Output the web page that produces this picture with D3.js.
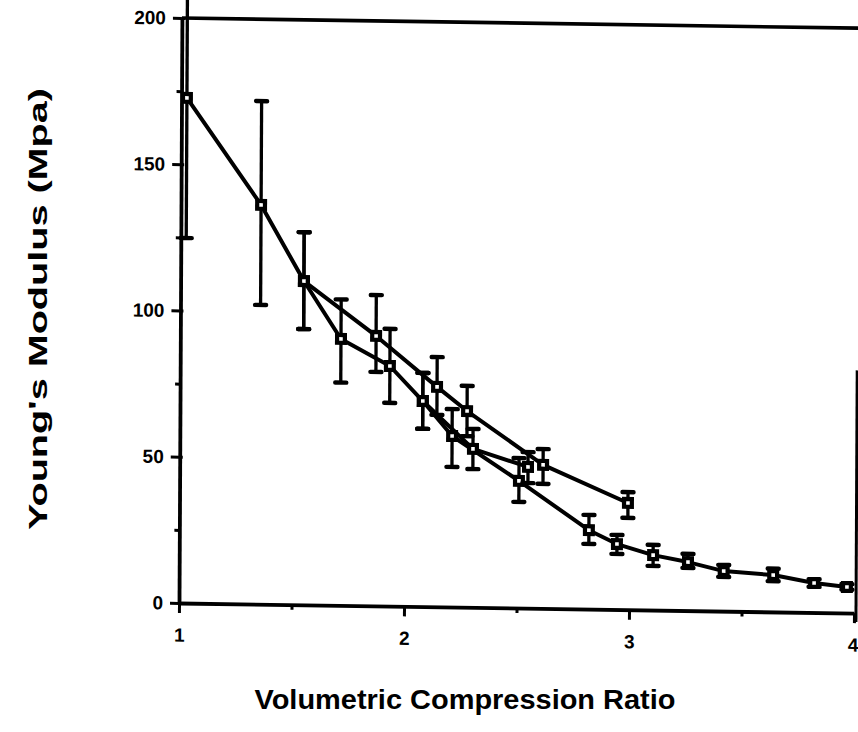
<!DOCTYPE html>
<html>
<head>
<meta charset="utf-8">
<script src="https://cdn.jsdelivr.net/npm/d3@7"></script>
<style>
  body { margin: 0; background: #fff; }
  svg { display: block; }
  text { font-family: "Liberation Sans", Arial, Helvetica, sans-serif; font-weight: bold; fill: #000; }
</style>
</head>
<body>
<svg id="chart" width="858" height="732"></svg>
<script>
// Axis ticks
const xTickValues = [1, 2, 3, 4];
const xMinorTicks = [1.5, 2.5, 3.5];
const yTickValues = [0, 50, 100, 150, 200];
const yMinorTicks = [25, 75, 125, 175];

// Series spanning the full compression range
const ratioA   = [1.024, 1.356, 1.548, 1.714, 1.932, 2.079, 2.21, 2.508, 2.82, 2.945, 3.106, 3.261, 3.42, 3.64, 3.822, 3.968];
const modulusA = [172.7, 136.5, 110.7, 91.1, 82.1, 70.3, 58.5, 43.5, 27.0, 22.4, 18.8, 16.6, 13.7, 12.6, 10.1, 8.9];
const lowA     = [124.8, 102.3, 94.3, 76.2, 69.5, 60.8, 47.9, 36.3, 22.3, 19.0, 15.1, 14.6, 11.7, 10.5, 8.8, 8.0];
const highA    = [220, 172, 127.4, 104.6, 94.8, 79.9, 67.7, 51.3, 32.2, 25.5, 22.3, 19.4, 15.8, 14.8, 11.4, 9.9];

// Short branch leaving the main curve near ratio 2.1
const ratioB   = [2.079, 2.303, 2.548];
const modulusB = [70.3, 54.2, 48.3];
const lowB     = [60.8, 47.3, 42.8];
const highB    = [79.9, 61.0, 53.4];

// Upper series ending at ratio 3
const ratioC   = [1.548, 1.870, 2.142, 2.276, 2.615, 2.993];
const modulusC = [110.7, 92.3, 75.2, 67.1, 49.1, 36.5];
const lowC     = [94.3, 80.0, 65.6, 58.5, 42.6, 31.4];
const highC    = [127.4, 106.3, 85.4, 75.7, 54.5, 40.2];

const seriesList = [
  { x: ratioA, y: modulusA, lo: lowA, hi: highA },
  { x: ratioB, y: modulusB, lo: lowB, hi: highB },
  { x: ratioC, y: modulusC, lo: lowC, hi: highC }
];

const svg = d3.select("#chart");

const x = d3.scaleLinear().domain([1, 4]).range([179, 854]);
const y = d3.scaleLinear().domain([0, 200]).range([603, 18]);

// The plot frame sits slightly askew on the page
const skewX = -0.005, skewY = 0.015;
const plot = svg.append("g")
  .attr("transform", `matrix(1,${skewY},${skewX},1,${-skewX * y(0)},${-skewY * x(1)})`);

// Frame: top edge and partial right edge
plot.append("line")
  .attr("x1", x(1)).attr("x2", 858).attr("y1", y(200)).attr("y2", y(200))
  .style("stroke", "#000").style("stroke-width", 3.6);
plot.append("line")
  .attr("x1", x(4) + 2).attr("x2", x(4) + 2).attr("y1", y(83)).attr("y2", y(-3))
  .style("stroke", "#000").style("stroke-width", 3);

// Y axis
const yAxis = plot.append("g")
  .attr("transform", `translate(${x(1)},0)`)
  .call(d3.axisLeft(y).tickValues(yTickValues).tickSize(9).tickSizeOuter(0).tickPadding(7));
yAxis.selectAll(".tick").append("line").attr("x2", 3).attr("stroke", "#000");
plot.append("g")
  .attr("transform", `translate(${x(1)},0)`)
  .call(d3.axisLeft(y).tickValues(yMinorTicks).tickSize(5).tickSizeOuter(0).tickFormat(""))
  .select(".domain").remove();

// X axis
const xAxis = plot.append("g")
  .attr("transform", `translate(0,${y(0)})`)
  .call(d3.axisBottom(x).tickValues(xTickValues).tickSize(10).tickSizeOuter(0).tickPadding(15).tickFormat(d3.format("d")));
plot.append("g")
  .attr("transform", `translate(0,${y(0)})`)
  .call(d3.axisBottom(x).tickValues(xMinorTicks).tickSize(5).tickSizeOuter(0).tickFormat(""))
  .select(".domain").remove();

// Keep the last x label inside the page edge
xAxis.selectAll(".tick text").filter(d => d === 4)
  .attr("text-anchor", "end").attr("x", 4);

plot.selectAll(".domain").style("stroke-width", 3.8);
plot.selectAll(".tick line").style("stroke-width", 3);
plot.selectAll(".tick text")
  .style("font-size", "19px").style("font-weight", "bold")
  .style("font-family", "'Liberation Sans', Arial, sans-serif");

const line = d3.line().x(d => x(d.x)).y(d => y(d.y));

seriesList.forEach(s => {
  const pts = s.x.map((v, i) => ({ x: v, y: s.y[i], lo: s.lo[i], hi: s.hi[i] }));

  plot.append("path").datum(pts)
    .attr("d", line).style("fill", "none")
    .style("stroke", "#000").style("stroke-width", 4).style("stroke-linejoin", "round");

  const eb = plot.append("g").selectAll("g").data(pts).join("g");
  eb.append("line")
    .attr("x1", d => x(d.x)).attr("x2", d => x(d.x))
    .attr("y1", d => y(d.lo)).attr("y2", d => y(d.hi))
    .style("stroke", "#000").style("stroke-width", 3.3);
  ["lo", "hi"].forEach(k => {
    eb.append("line")
      .attr("x1", d => x(d.x) - 5.5).attr("x2", d => x(d.x) + 5.5)
      .attr("y1", d => y(d[k])).attr("y2", d => y(d[k]))
      .style("stroke", "#000").style("stroke-width", 4.4).style("stroke-linecap", "round");
  });

  const mk = plot.append("g").selectAll("g").data(pts).join("g")
    .attr("transform", d => `translate(${x(d.x)},${y(d.y)})`);
  mk.append("rect").attr("x", -6).attr("y", -6).attr("width", 12).attr("height", 12).style("fill", "#000");
  mk.append("rect").attr("x", -1.8).attr("y", -1.8).attr("width", 3.6).attr("height", 3.6).style("fill", "#fff");
});

// Axis titles
svg.append("text")
  .attr("x", 465).attr("y", 709)
  .attr("text-anchor", "middle")
  .attr("font-size", 27)
  .attr("textLength", 421).attr("lengthAdjust", "spacingAndGlyphs")
  .text("Volumetric Compression Ratio");

svg.append("text")
  .attr("transform", "translate(47,309) rotate(-90)")
  .attr("text-anchor", "middle")
  .attr("font-size", 26)
  .attr("textLength", 442).attr("lengthAdjust", "spacingAndGlyphs")
  .text("Young's  Modulus  (Mpa)");
</script>
</body>
</html>
